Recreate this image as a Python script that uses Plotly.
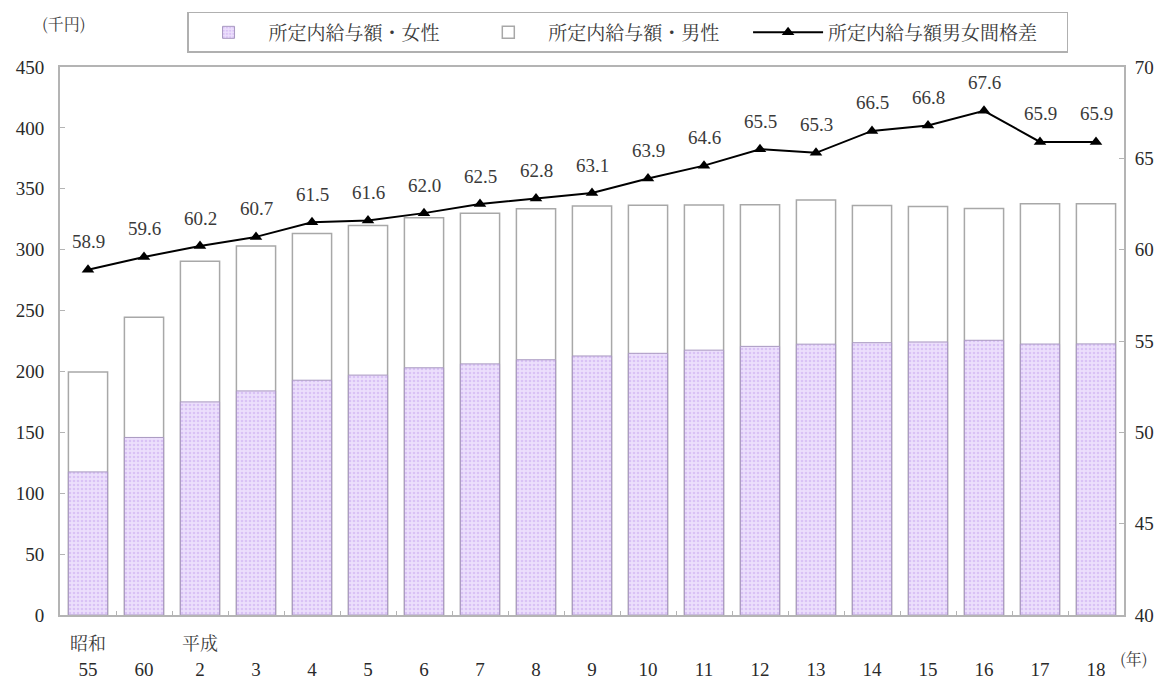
import plotly.graph_objects as go

# 所定内給与額（千円）と男女間格差（男性=100）
years = ["55", "60", "2", "3", "4", "5", "6", "7", "8", "9",
         "10", "11", "12", "13", "14", "15", "16", "17", "18"]
male = [199.5, 244.6, 290.5, 303.0, 313.3, 319.9, 326.2, 330.0, 333.6, 335.8,
        336.4, 336.7, 336.8, 340.7, 336.2, 335.5, 333.9, 337.8, 337.7]
female = [117.5, 145.8, 175.0, 184.0, 192.8, 197.0, 203.0, 206.2, 209.6, 212.7,
          214.9, 217.5, 220.6, 222.4, 223.6, 224.2, 225.6, 222.5, 222.6]
gap = [58.9, 59.6, 60.2, 60.7, 61.5, 61.6, 62.0, 62.5, 62.8, 63.1,
       63.9, 64.6, 65.5, 65.3, 66.5, 66.8, 67.6, 65.9, 65.9]
eras = {"55": "昭和", "2": "平成"}

num_font = "Liberation Serif, Noto Serif CJK JP, Noto Sans CJK JP, serif"
jp_font = "Noto Serif CJK JP, Noto Sans CJK JP, serif"
axis_grey = "#b4b4b4"
text_col = "#3a3a3a"
tick_col = "#2a2a2a"
pad = "\u3000\u2005"  # extra room after a legend entry

fig = go.Figure()

fig.add_trace(go.Bar(
    x=years, y=male, name="所定内給与額・男性" + pad,
    marker=dict(color="white", line=dict(color="#a8a8a8", width=1.5)),
    width=0.7, legendrank=2,
))
fig.add_trace(go.Bar(
    x=years, y=female, name="所定内給与額・女性" + pad,
    marker=dict(
        color="#e4d2fb",
        line=dict(color="#a898c0", width=1),
        pattern=dict(shape=".", fgcolor="#c6a6ee", bgcolor="#ecdffc",
                     size=4, solidity=0.35),
    ),
    width=0.7, legendrank=1,
))
fig.add_trace(go.Scatter(
    x=years, y=gap, yaxis="y2", name="所定内給与額男女間格差" + pad,
    mode="lines+markers",
    line=dict(color="black", width=2),
    marker=dict(symbol="triangle-up", size=11, color="black"),
    legendrank=3,
))

# category positions are referenced by index so numeric-looking labels stay categorical
pos = {label: i for i, label in enumerate(years)}

annotations = []
for x, v in zip(years, gap):
    annotations.append(dict(
        x=pos[x], y=v, xref="x", yref="y2", text=f"{v:.1f}", showarrow=False,
        yshift=28, font=dict(family=num_font, size=19, color=text_col),
    ))
for x, label in eras.items():
    annotations.append(dict(
        x=pos[x], y=0, xref="x", yref="paper", text=label, showarrow=False,
        yanchor="middle", yshift=-27,
        font=dict(family=jp_font, size=18, color=text_col),
    ))
annotations.append(dict(
    x=1.0094, y=-0.0785, xref="paper", yref="paper", text="(年)",
    xanchor="center", yanchor="middle",
    showarrow=False, font=dict(family=jp_font, size=16, color=text_col),
))
annotations.append(dict(
    x=0.004, y=1.08, xref="paper", yref="paper", text="(千円)",
    xanchor="center", yanchor="middle",
    showarrow=False, font=dict(family=jp_font, size=16, color=text_col),
))

fig.update_layout(
    width=1166, height=679,
    margin=dict(l=60, r=42, t=67, b=64),
    paper_bgcolor="white", plot_bgcolor="white",
    barmode="overlay",
    showlegend=True,
    legend=dict(
        orientation="h", x=0.1194, xanchor="left", y=1.1004, yanchor="top",
        bordercolor="#b0b0b0", borderwidth=1.5,
        font=dict(family=jp_font, size=19, color=text_col),
        itemwidth=70,
        traceorder="normal",
    ),
    xaxis=dict(
        type="category", tickvals=years, ticktext=years,
        range=[-0.5, len(years) - 0.5], automargin=False,
        showline=True, linecolor=axis_grey, linewidth=2, mirror=True,
        ticks="inside", ticklen=4, tickcolor=axis_grey, tickson="boundaries",
        ticklabelstandoff=36, tickangle=0,
        tickfont=dict(family=num_font, size=19, color=tick_col),
        showgrid=False, zeroline=False,
    ),
    yaxis=dict(
        range=[0, 450], dtick=50, automargin=False,
        showline=True, linecolor=axis_grey, linewidth=2,
        ticks="inside", ticklen=5, tickcolor=axis_grey,
        ticklabelstandoff=10,
        tickfont=dict(family=num_font, size=19, color=tick_col),
        showgrid=False, zeroline=False,
    ),
    yaxis2=dict(
        range=[40, 70], dtick=5, overlaying="y", side="right", automargin=False,
        showline=True, linecolor=axis_grey, linewidth=2,
        ticks="inside", ticklen=5, tickcolor=axis_grey,
        ticklabelstandoff=5,
        tickfont=dict(family=num_font, size=19, color=tick_col),
        showgrid=False, zeroline=False,
    ),
    annotations=annotations,
)

fig.write_html("out.html")
